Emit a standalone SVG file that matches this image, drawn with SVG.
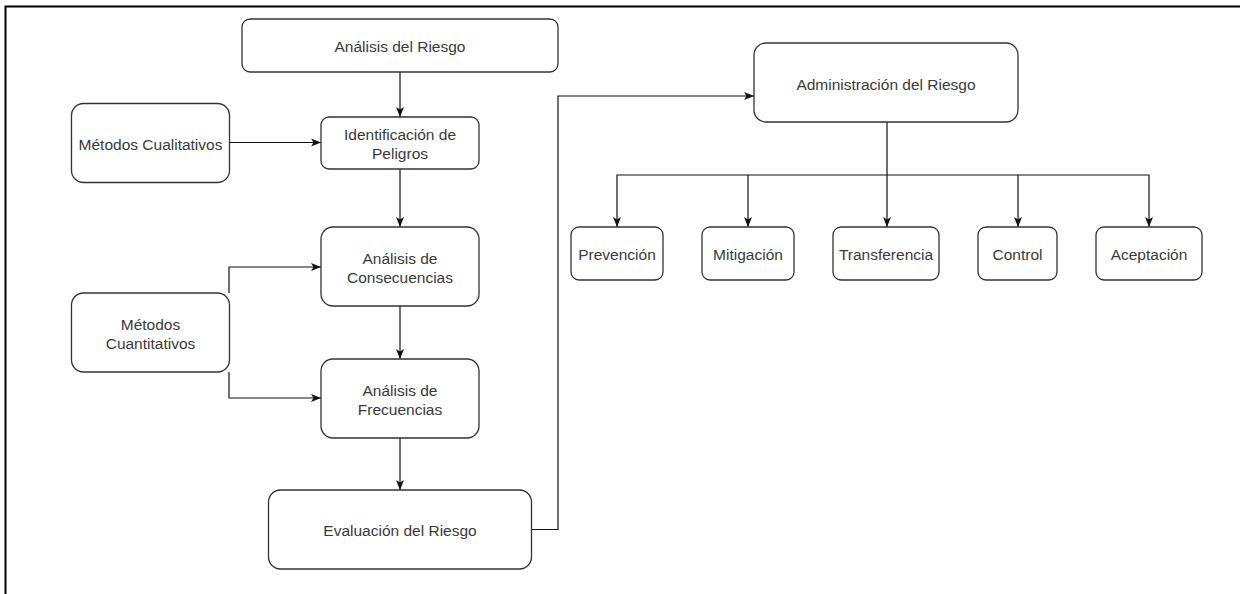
<svg xmlns="http://www.w3.org/2000/svg" width="1240" height="594" viewBox="0 0 1240 594">
  <style>
    .box { fill: #ffffff; stroke: #333333; stroke-width: 1.3; }
    .lbl { font-family: "Liberation Sans", Arial, sans-serif; font-size: 15.5px; fill: #3a3a3a; text-anchor: middle; dominant-baseline: central; }
    .edge { fill: none; stroke: #111111; stroke-width: 1.2; }
    .frame { fill: none; stroke: #000000; stroke-width: 2; }
  </style>
  <defs>
    <marker id="arrow" viewBox="0 0 10 10" refX="10" refY="5" markerWidth="10" markerHeight="10" markerUnits="userSpaceOnUse" orient="auto">
      <path d="M0,1 L10,5 L0,9 L2.5,5 Z" fill="#111111"/>
    </marker>
  </defs>

  <rect width="1240" height="594" fill="#ffffff"/>
  <path class="frame" d="M5.5,594 V6.5 H1240"/>

  <g id="connectors">
    <path class="edge" d="M400,72 V117" marker-end="url(#arrow)"/>
    <path class="edge" d="M229,142.5 H321" marker-end="url(#arrow)"/>
    <path class="edge" d="M400,169 V227" marker-end="url(#arrow)"/>
    <path class="edge" d="M229,293 V267 H321" marker-end="url(#arrow)"/>
    <path class="edge" d="M229,372 V398 H321" marker-end="url(#arrow)"/>
    <path class="edge" d="M400,306 V359" marker-end="url(#arrow)"/>
    <path class="edge" d="M400,438 V490" marker-end="url(#arrow)"/>
    <path class="edge" d="M532,529.5 H558 V96 H754" marker-end="url(#arrow)"/>
    <path class="edge" d="M887,122 V227" marker-end="url(#arrow)"/>
    <path class="edge" d="M887,175 H617 V227" marker-end="url(#arrow)"/>
    <path class="edge" d="M748,175 V227" marker-end="url(#arrow)"/>
    <path class="edge" d="M887,175 H1149 V227" marker-end="url(#arrow)"/>
    <path class="edge" d="M1018,175 V227" marker-end="url(#arrow)"/>
  </g>

  <g id="analisis-riesgo">
    <rect class="box" x="242" y="19" width="316" height="53" rx="8"/>
    <text class="lbl" x="400" y="46">Análisis del Riesgo</text>
  </g>
  <g id="metodos-cualitativos">
    <rect class="box" x="71.5" y="103.5" width="158" height="79" rx="12"/>
    <text class="lbl" x="150.5" y="144">Métodos Cualitativos</text>
  </g>
  <g id="identificacion-peligros">
    <rect class="box" x="321" y="117" width="158" height="52" rx="8"/>
    <text class="lbl" x="400" y="134">Identificación de</text>
    <text class="lbl" x="400" y="153">Peligros</text>
  </g>
  <g id="analisis-consecuencias">
    <rect class="box" x="321" y="227" width="158" height="79" rx="12"/>
    <text class="lbl" x="400" y="258">Análisis de</text>
    <text class="lbl" x="400" y="277">Consecuencias</text>
  </g>
  <g id="metodos-cuantitativos">
    <rect class="box" x="71.5" y="293" width="158" height="79" rx="12"/>
    <text class="lbl" x="150.5" y="324">Métodos</text>
    <text class="lbl" x="150.5" y="343">Cuantitativos</text>
  </g>
  <g id="analisis-frecuencias">
    <rect class="box" x="321" y="359" width="158" height="79" rx="12"/>
    <text class="lbl" x="400" y="390">Análisis de</text>
    <text class="lbl" x="400" y="409">Frecuencias</text>
  </g>
  <g id="evaluacion-riesgo">
    <rect class="box" x="268.5" y="490" width="263" height="79" rx="12"/>
    <text class="lbl" x="400" y="530">Evaluación del Riesgo</text>
  </g>
  <g id="administracion-riesgo">
    <rect class="box" x="754" y="43" width="264" height="79" rx="12"/>
    <text class="lbl" x="886" y="84">Administración del Riesgo</text>
  </g>
  <g id="prevencion">
    <rect class="box" x="571" y="227" width="92" height="53" rx="8"/>
    <text class="lbl" x="617" y="254">Prevención</text>
  </g>
  <g id="mitigacion">
    <rect class="box" x="702" y="227" width="92" height="53" rx="8"/>
    <text class="lbl" x="748" y="254">Mitigación</text>
  </g>
  <g id="transferencia">
    <rect class="box" x="833" y="227" width="106" height="53" rx="8"/>
    <text class="lbl" x="886" y="254">Transferencia</text>
  </g>
  <g id="control">
    <rect class="box" x="978" y="227" width="79" height="53" rx="8"/>
    <text class="lbl" x="1017.5" y="254">Control</text>
  </g>
  <g id="aceptacion">
    <rect class="box" x="1096" y="227" width="106" height="53" rx="8"/>
    <text class="lbl" x="1149" y="254">Aceptación</text>
  </g>
</svg>
